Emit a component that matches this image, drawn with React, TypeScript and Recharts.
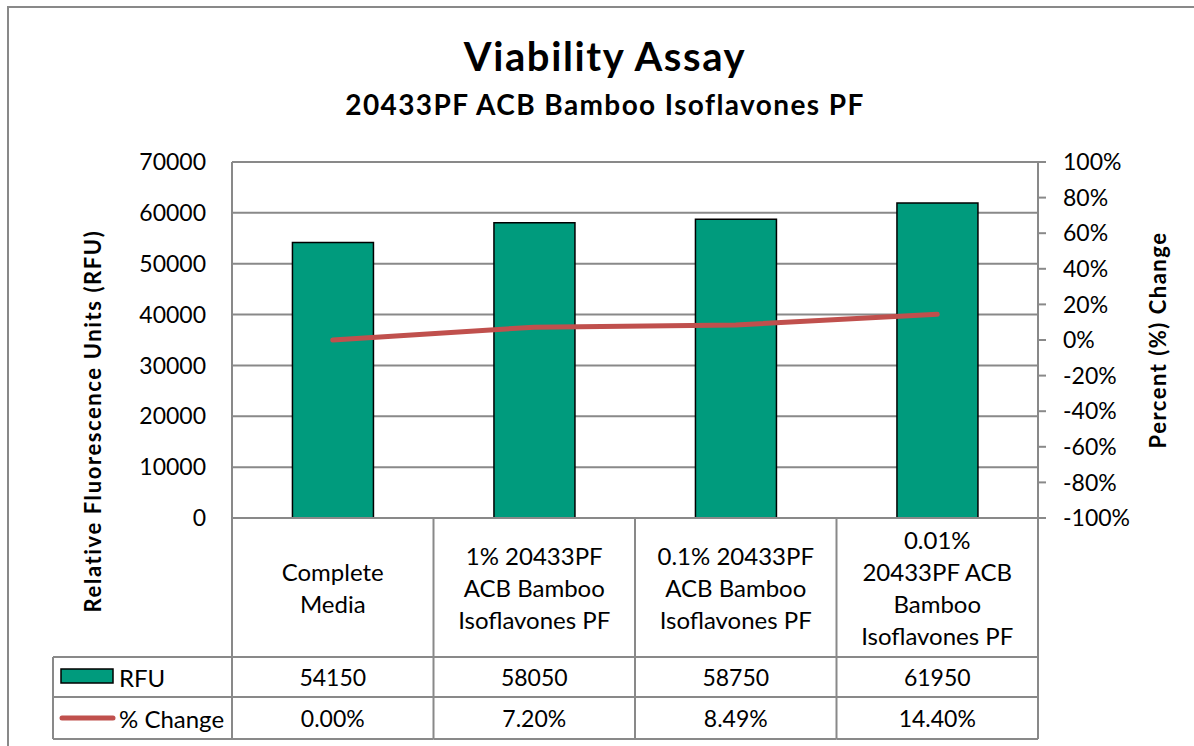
import { Bar, CartesianGrid, ComposedChart, Customized, Line, XAxis, YAxis } from 'recharts'

const CATEGORIES = [
  'Complete Media',
  '1% 20433PF ACB Bamboo Isoflavones PF',
  '0.1% 20433PF ACB Bamboo Isoflavones PF',
  '0.01% 20433PF ACB Bamboo Isoflavones PF',
]

// how Excel wrapped each category label in the data table
const CATEGORY_LINES = [
  ['Complete', 'Media'],
  ['1% 20433PF', 'ACB Bamboo', 'Isoflavones PF'],
  ['0.1% 20433PF', 'ACB Bamboo', 'Isoflavones PF'],
  ['0.01%', '20433PF ACB', 'Bamboo', 'Isoflavones PF'],
]

const RFU = [54150, 58050, 58750, 61950]
const PCT_CHANGE = [0.0, 7.2, 8.49, 14.4]

const RFU_TICKS = [0, 10000, 20000, 30000, 40000, 50000, 60000, 70000]
const PCT_TICKS = [-100, -80, -60, -40, -20, 0, 20, 40, 60, 80, 100]

const TITLE = 'Viability Assay'
const SUBTITLE = '20433PF ACB Bamboo Isoflavones PF'
const LEFT_TITLE = 'Relative Fluorescence Units (RFU)'
const RIGHT_TITLE = 'Percent (%) Change'

const data = CATEGORIES.map((name, i) => ({ name, rfu: RFU[i], pct: PCT_CHANGE[i] }))

const FONT = 'Lato, "Open Sans", sans-serif'
const WIDTH = 1194
const HEIGHT = 746
const PLOT_LEFT = 232
const PLOT_RIGHT = 1038
const PLOT_TOP = 162
const PLOT_BOTTOM = 518
const TABLE_BOTTOM = 739
const BAND = (PLOT_RIGHT - PLOT_LEFT) / CATEGORIES.length
const HEADER_H = 139
const ROW_H = 40
const LINE_H = 32
const GRID = '#898989'
const BAR_FILL = '#009B7D'
const LINE_RED = '#C0504D'

function TableTick(props: any) {
  const { x, y, index } = props
  const half = BAND / 2
  const lines = CATEGORY_LINES[index] ?? []
  const tableH = TABLE_BOTTOM - PLOT_BOTTOM
  const startY = y + HEADER_H / 2 - ((lines.length - 1) * LINE_H) / 2
  const rowA = y + HEADER_H
  const rowB = y + HEADER_H + ROW_H
  const text = { fontFamily: FONT, fontSize: 23, fill: '#000', textAnchor: 'middle' as const, dominantBaseline: 'central' as const }
  return (
    <g>
      {index === 0 && <line x1={x - half} y1={y} x2={x - half} y2={y + tableH} stroke={GRID} strokeWidth={2} />}
      <line x1={x + half} y1={y} x2={x + half} y2={y + tableH} stroke={GRID} strokeWidth={2} />
      <line x1={x - half} y1={rowA} x2={x + half} y2={rowA} stroke={GRID} strokeWidth={2} />
      <line x1={x - half} y1={rowB} x2={x + half} y2={rowB} stroke={GRID} strokeWidth={2} />
      <line x1={x - half} y1={y + tableH} x2={x + half} y2={y + tableH} stroke={GRID} strokeWidth={2} />
      {lines.map((l, i) => (
        <text key={i} x={x} y={startY + i * LINE_H} {...text} fontSize={24}>
          {l}
        </text>
      ))}
      <text x={x} y={rowA + ROW_H / 2} {...text}>
        {RFU[index]}
      </text>
      <text x={x} y={(rowB + y + tableH) / 2} {...text}>
        {PCT_CHANGE[index].toFixed(2)}%
      </text>
    </g>
  )
}

function Decorations() {
  const rowA = PLOT_BOTTOM + HEADER_H
  const rowB = rowA + ROW_H
  const legendLeft = 53
  const label = { fontFamily: FONT, fontSize: 24, fill: '#000', dominantBaseline: 'central' as const }
  const bold = { fontFamily: FONT, fontWeight: 700, fill: '#000', textAnchor: 'middle' as const }
  return (
    <g>
      <rect x={8} y={7} width={WIDTH + 20} height={HEIGHT + 20} fill="none" stroke={GRID} strokeWidth={2} />
      <text x={605} y={71} fontSize={40} letterSpacing={1.6} {...bold}>
        {TITLE}
      </text>
      <text x={605} y={115} fontSize={28} letterSpacing={1.4} {...bold}>
        {SUBTITLE}
      </text>
      <text
        x={92}
        y={421}
        fontSize={22}
        letterSpacing={1.6}
        dominantBaseline="central"
        transform="rotate(-90 92 421)"
        {...bold}
      >
        {LEFT_TITLE}
      </text>
      <text
        x={1157}
        y={340}
        fontSize={22}
        letterSpacing={1.5}
        dominantBaseline="central"
        transform="rotate(-90 1157 340)"
        {...bold}
      >
        {RIGHT_TITLE}
      </text>
      {/* legend column of the data table */}
      <line x1={legendLeft} y1={rowA} x2={PLOT_LEFT} y2={rowA} stroke={GRID} strokeWidth={2} />
      <line x1={legendLeft} y1={rowB} x2={PLOT_LEFT} y2={rowB} stroke={GRID} strokeWidth={2} />
      <line x1={legendLeft} y1={TABLE_BOTTOM} x2={PLOT_LEFT} y2={TABLE_BOTTOM} stroke={GRID} strokeWidth={2} />
      <line x1={legendLeft} y1={rowA} x2={legendLeft} y2={TABLE_BOTTOM} stroke={GRID} strokeWidth={2} />
      <rect x={61} y={669} width={52} height={14} fill={BAR_FILL} stroke="#000" strokeWidth={1.5} />
      <text x={119} y={677} {...label}>
        RFU
      </text>
      <line x1={62} y1={718} x2={113} y2={718} stroke={LINE_RED} strokeWidth={5} strokeLinecap="round" />
      <text x={119} y={718} {...label}>
        % Change
      </text>
    </g>
  )
}

export default function App() {
  return (
    <div style={{ position: 'absolute', left: 0, top: 0, width: WIDTH, height: HEIGHT, background: '#fff' }}>
      <ComposedChart
        width={WIDTH}
        height={HEIGHT}
        data={data}
        barCategoryGap="30%"
        margin={{ top: PLOT_TOP, right: WIDTH - PLOT_RIGHT - 100, bottom: HEIGHT - TABLE_BOTTOM, left: PLOT_LEFT - 100 }}
      >
        <CartesianGrid yAxisId="left" vertical={false} stroke={GRID} strokeWidth={2} />
        <XAxis
          dataKey="name"
          interval={0}
          height={TABLE_BOTTOM - PLOT_BOTTOM}
          axisLine={{ stroke: GRID, strokeWidth: 2 }}
          tickLine={false}
          tickSize={0}
          tickMargin={0}
          tick={<TableTick />}
        />
        <YAxis
          yAxisId="left"
          width={100}
          domain={[0, 70000]}
          ticks={RFU_TICKS}
          interval={0}
          axisLine={{ stroke: GRID, strokeWidth: 2 }}
          tickLine={false}
          tickSize={0}
          tickMargin={26}
          tick={{ fontFamily: FONT, fontSize: 23, fill: '#000' }}
        />
        <YAxis
          yAxisId="right"
          orientation="right"
          width={100}
          domain={[-100, 100]}
          ticks={PCT_TICKS}
          interval={0}
          tickFormatter={(v: number) => `${v}%`}
          axisLine={{ stroke: GRID, strokeWidth: 2 }}
          tickLine={{ stroke: GRID, strokeWidth: 2 }}
          tickSize={8}
          tickMargin={17}
          tick={{ fontFamily: FONT, fontSize: 23, fill: '#000', textAnchor: 'start' }}
        />
        <Bar yAxisId="left" dataKey="rfu" fill={BAR_FILL} stroke="#000" strokeWidth={1.5} isAnimationActive={false} />
        <Line
          yAxisId="right"
          type="linear"
          dataKey="pct"
          stroke={LINE_RED}
          strokeWidth={5}
          strokeLinecap="round"
          dot={false}
          activeDot={false}
          isAnimationActive={false}
        />
        <Customized component={<Decorations />} />
      </ComposedChart>
    </div>
  )
}
